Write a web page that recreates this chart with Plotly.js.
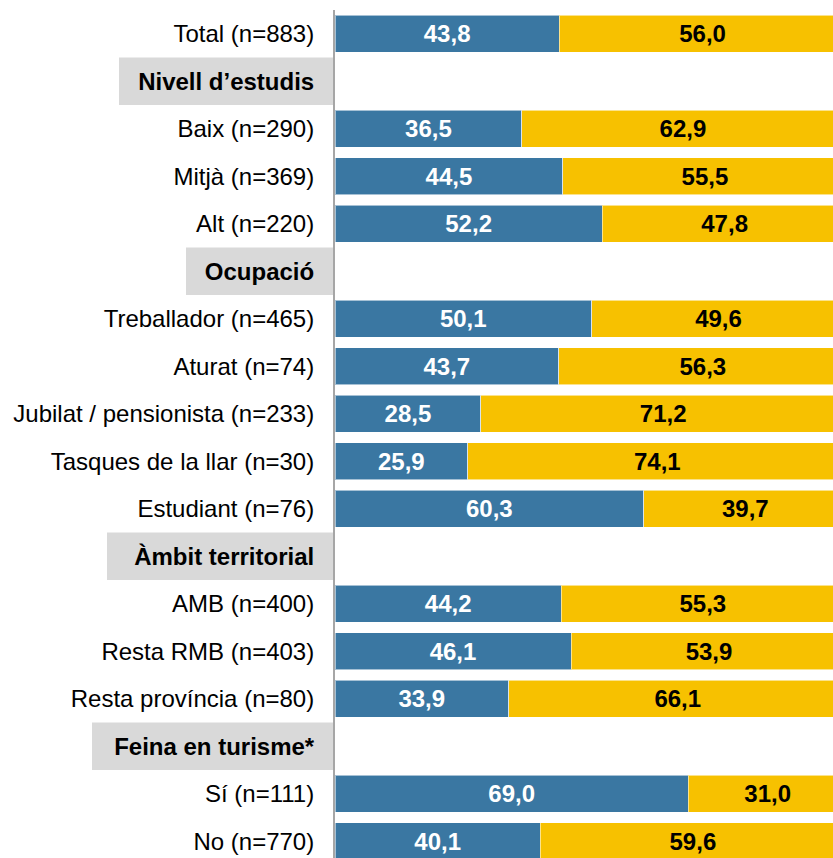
<!DOCTYPE html>
<html>
<head>
<meta charset="utf-8">
<script src="https://cdn.plot.ly/plotly-3.0.1.min.js"></script>
<style>
html,body{margin:0;padding:0;background:#fff;}
#chart{width:833px;height:858px;}
</style>
</head>
<body>
<div id="chart"></div>
<script>
var categories = [
  'Total (n=883)',
  'Nivell d’estudis',
  'Baix (n=290)',
  'Mitjà (n=369)',
  'Alt (n=220)',
  'Ocupació',
  'Treballador (n=465)',
  'Aturat (n=74)',
  'Jubilat / pensionista (n=233)',
  'Tasques de la llar (n=30)',
  'Estudiant (n=76)',
  'Àmbit territorial',
  'AMB (n=400)',
  'Resta RMB (n=403)',
  'Resta província (n=80)',
  'Feina en turisme*',
  'Sí (n=111)',
  'No (n=770)'
];
var headers = ['Nivell d’estudis', 'Ocupació', 'Àmbit territorial', 'Feina en turisme*'];
var blueValues = [43.8, null, 36.5, 44.5, 52.2, null, 50.1, 43.7, 28.5, 25.9, 60.3, null, 44.2, 46.1, 33.9, null, 69.0, 40.1];
var yellowValues = [56.0, null, 62.9, 55.5, 47.8, null, 49.6, 56.3, 71.2, 74.1, 39.7, null, 55.3, 53.9, 66.1, null, 31.0, 59.6];

// header box left edges (px) - layout only
var headerBoxLeft = {'Nivell d’estudis': 119, 'Ocupació': 186, 'Àmbit territorial': 107, 'Feina en turisme*': 92};

var W = 833, H = 858, ML = 335, MT = 10;
var plotW = W - ML;
var rowPx = 47.5;
var nRowsVisible = (H - MT) / rowPx;

var tickText = categories.map(function(c){
  return headers.indexOf(c) >= 0 ? '<b>' + c + '</b>' : c;
});

var shapes = headers.map(function(h){
  var idx = categories.indexOf(h);
  return {
    type: 'rect', layer: 'below',
    xref: 'paper', yref: 'y',
    x0: (headerBoxLeft[h] - ML) / plotW, x1: (333 - ML) / plotW,
    y0: idx - 0.5, y1: idx + 0.5,
    fillcolor: '#d9d9d9', line: {width: 0}
  };
});

var traces = [
  {
    type: 'bar', orientation: 'h', name: 'Sèrie 1',
    y: categories, x: blueValues,
    marker: {color: '#3a77a2', line: {color: 'rgba(255,255,255,0.55)', width: 1}},
    texttemplate: '<b>%{x:.1f}</b>',
    textposition: 'inside', insidetextanchor: 'middle', textangle: 0,
    textfont: {family: 'Liberation Sans, Arial, sans-serif', size: 24, color: '#ffffff'},
    hoverinfo: 'none', cliponaxis: true
  },
  {
    type: 'bar', orientation: 'h', name: 'Sèrie 2',
    y: categories, x: yellowValues,
    marker: {color: '#f7c100', line: {color: 'rgba(255,255,255,0.55)', width: 1}},
    texttemplate: '<b>%{x:.1f}</b>',
    textposition: 'inside', insidetextanchor: 'middle', textangle: 0,
    textfont: {family: 'Liberation Sans, Arial, sans-serif', size: 24, color: '#000000'},
    hoverinfo: 'none', cliponaxis: true
  }
];

var layout = {
  width: W, height: H,
  margin: {l: ML, r: 0, t: MT, b: 0, pad: 0},
  barmode: 'stack',
  bargap: 0.22,
  separators: ',.',
  showlegend: false,
  paper_bgcolor: '#ffffff', plot_bgcolor: '#ffffff',
  font: {family: 'Liberation Sans, Arial, sans-serif', size: 24, color: '#000000'},
  xaxis: {range: [0, plotW / 5.12], visible: false, showgrid: false, zeroline: false, fixedrange: true},
  yaxis: {
    type: 'category',
    range: [-0.5 + nRowsVisible, -0.5],
    tickmode: 'array', tickvals: categories, ticktext: tickText,
    ticks: '', showgrid: false, zeroline: false,
    showline: true, linecolor: '#a6a6a6', linewidth: 2,
    ticklabelstandoff: 14,
    tickfont: {family: 'Liberation Sans, Arial, sans-serif', size: 24, color: '#000000'},
    fixedrange: true
  },
  shapes: shapes,
  uniformtext: {mode: false}
};

Plotly.newPlot('chart', traces, layout, {displayModeBar: false, staticPlot: true});
</script>
</body>
</html>
